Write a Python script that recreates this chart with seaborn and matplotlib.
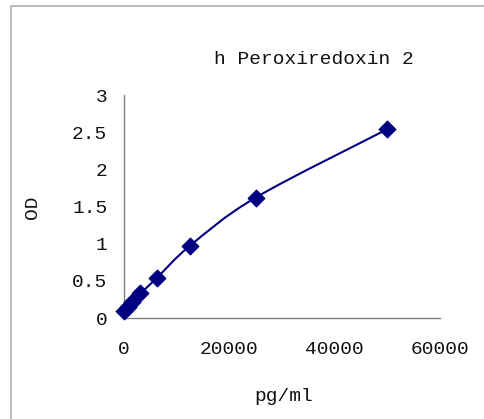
import numpy as np
import pandas as pd
import matplotlib
matplotlib.use("Agg")
import matplotlib.pyplot as plt
import seaborn as sns
from matplotlib.path import Path
from matplotlib.patches import PathPatch
from matplotlib.lines import Line2D

conc = [0, 781.25, 1562.5, 3125, 6250, 12500, 25000, 50000]
od = [0.09, 0.15, 0.22, 0.33, 0.54, 0.97, 1.62, 2.54]
xticks = [0, 20000, 40000, 60000]
yticks = [0, 0.5, 1, 1.5, 2, 2.5, 3]
ytick_labels = ["0", "0.5", "1", "1.5", "2", "2.5", "3"]
title = "h Peroxiredoxin 2"
xlabel = "pg/ml"
ylabel = "OD"

sns.set_style("white")
plt.rcParams["font.family"] = ["Liberation Mono", "DejaVu Sans Mono"]

df = pd.DataFrame({"conc": conc, "od": od})
W, H = 484, 419
fig = plt.figure(figsize=(W / 100, H / 100), dpi=100)
ax = fig.add_axes([124 / W, 1 - 318 / H, (440 - 124) / W, (318 - 95) / H])

navy = "#000080"

# smooth line (Excel-style Catmull-Rom bezier through the data points)
pts = np.column_stack([df["conc"].to_numpy(), df["od"].to_numpy()])
n = len(pts)
verts = [pts[0]]
codes = [Path.MOVETO]
for i in range(n - 1):
    p0 = pts[i - 1] if i > 0 else pts[i]
    p1 = pts[i]
    p2 = pts[i + 1]
    p3 = pts[i + 2] if i + 2 < n else pts[i + 1]
    c1 = p1 + (p2 - p0) / 6
    c2 = p2 - (p3 - p1) / 6
    verts += [c1, c2, p2]
    codes += [Path.CURVE4] * 3
ax.add_patch(PathPatch(Path(verts, codes), facecolor="none", edgecolor=navy, lw=1.5))

sns.scatterplot(data=df, x="conc", y="od", marker="D", s=75, color=navy,
                edgecolor=navy, ax=ax, zorder=3)

ax.set_xlim(0, 60000)
ax.set_ylim(0, 3)
ax.set_xticks(xticks)
ax.set_xticklabels([str(t) for t in xticks])
ax.set_yticks(yticks)
ax.set_yticklabels(ytick_labels)
ax.set_xlabel("")
ax.set_ylabel("")
for s in ["top", "right"]:
    ax.spines[s].set_visible(False)
for s in ["left", "bottom"]:
    ax.spines[s].set_color("#808080")
    ax.spines[s].set_linewidth(1)
ax.tick_params(axis="both", direction="in", length=6, width=1, color="#808080",
               labelsize=14, labelcolor="#111111")
ax.tick_params(axis="y", pad=12)
ax.tick_params(axis="x", pad=16.5)
for c in ax.collections:
    c.set_clip_on(False)

fig.text(314 / W, 1 - 60 / H, title, ha="center", va="center", fontsize=14, color="#111111")
fig.text(283.5 / W, 1 - 396 / H, xlabel, ha="center", va="center", fontsize=14, color="#111111")
fig.text(33 / W, 1 - 207 / H, ylabel, ha="center", va="center", rotation=90, fontsize=14, color="#111111")

# outer frame
fig.add_artist(Line2D([11 / W, 11 / W, 1.0], [0.0, 1 - 6 / H, 1 - 6 / H],
                      transform=fig.transFigure, color="#b0b0b0", lw=1.2))

fig.savefig("out.png", dpi=100)
